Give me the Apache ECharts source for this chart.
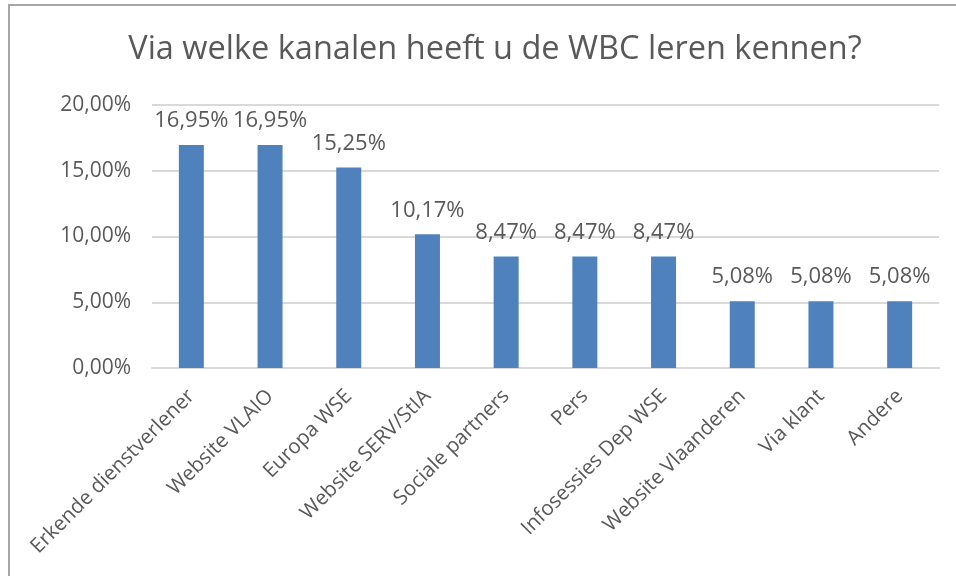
<!DOCTYPE html>
<html>
<head>
<meta charset="utf-8">
<script src="https://cdn.jsdelivr.net/npm/echarts@6/dist/echarts.min.js"></script>
<style>
  html, body { margin: 0; padding: 0; background: #fff; }
  #main { width: 956px; height: 576px; }
</style>
</head>
<body>
<div id="main"></div>
<script>
var categories = ['Erkende dienstverlener', 'Website VLAIO', 'Europa WSE', 'Website SERV/StIA',
    'Sociale partners', 'Pers', 'Infosessies Dep WSE', 'Website Vlaanderen', 'Via klant', 'Andere'];
var percentages = [16.95, 16.95, 15.25, 10.17, 8.47, 8.47, 8.47, 5.08, 5.08, 5.08];
var yTicks = [0, 5, 10, 15, 20];

function fmtPct(v) {
    return v.toFixed(2).replace('.', ',') + '%';
}

var chart = echarts.init(document.getElementById('main'));
var font = '"Open Sans", sans-serif';
var option = {
    backgroundColor: '#fff',
    animation: false,
    title: {
        text: 'Via welke kanalen heeft u de WBC leren kennen?',
        left: 490,
        top: 28,
        textAlign: 'center',
        textStyle: { fontFamily: font, fontSize: 32.5, fontWeight: 'normal', color: '#595959' }
    },
    graphic: [{
        type: 'rect',
        shape: { x: 9, y: 5, width: 960, height: 590 },
        style: { fill: 'none', stroke: '#A6A6A6', lineWidth: 2 },
        silent: true
    }],
    grid: { left: 152, right: 17, top: 105, bottom: 208 },
    xAxis: {
        type: 'category',
        data: categories,
        axisLine: { lineStyle: { color: '#D9D9D9', width: 2 } },
        axisTick: { show: false },
        axisLabel: {
            rotate: 45, interval: 0, margin: 25,
            fontFamily: font, fontSize: 20.5, color: '#595959'
        }
    },
    yAxis: {
        type: 'value',
        min: yTicks[0],
        max: yTicks[yTicks.length - 1],
        interval: 5,
        axisLine: { show: false },
        axisTick: { show: false },
        splitLine: { lineStyle: { color: '#D9D9D9', width: 2 } },
        axisLabel: {
            margin: 21, fontFamily: font, fontSize: 21, color: '#595959',
            formatter: function (v) { return fmtPct(v); }
        }
    },
    series: [{
        type: 'bar',
        data: percentages,
        barWidth: 25,
        itemStyle: { color: '#4F81BD' },
        label: {
            show: true, position: 'top', distance: 13,
            fontFamily: font, fontSize: 22, color: '#595959',
            formatter: function (p) { return fmtPct(p.value); }
        }
    }]
};
chart.setOption(option);
</script>
</body>
</html>
